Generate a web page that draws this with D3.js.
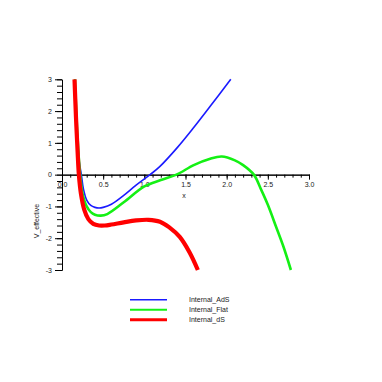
<!DOCTYPE html>
<html>
<head>
<meta charset="utf-8">
<script src="https://cdn.jsdelivr.net/npm/d3@7"></script>
<style>
  body { margin: 0; background: #fff; }
  text { font-family: "Liberation Sans", Arial, sans-serif; fill: #222; }
  .axis path, .axis line { stroke: #000; stroke-width: 1; }
</style>
</head>
<body>
<svg id="chart"></svg>
<script>
// series
const seriesNames = ['Internal_AdS', 'Internal_Flat', 'Internal_dS'];

const xAds = [0.155, 0.17, 0.19, 0.21, 0.235, 0.26, 0.3, 0.35, 0.4, 0.45, 0.5, 0.6, 0.75, 0.9, 1.07, 1.19, 1.4, 1.59, 1.8, 2.05];
const vAds = [3.0, 2.1, 1.1, 0.4, 0.0, -0.45, -0.8, -0.97, -1.03, -1.05, -1.03, -0.93, -0.65, -0.33, 0.0, 0.26, 0.85, 1.45, 2.15, 3.0];

const xFlat = [0.157, 0.17, 0.19, 0.22, 0.25, 0.3, 0.35, 0.4, 0.47, 0.55, 0.75, 1.0, 1.2, 1.39, 1.6, 1.8, 1.94, 2.1, 2.2, 2.33, 2.42, 2.5, 2.6, 2.69, 2.78];
const vFlat = [3.0, 2.2, 1.1, 0.0, -0.6, -1.0, -1.18, -1.26, -1.29, -1.24, -0.87, -0.37, -0.17, 0.0, 0.3, 0.5, 0.57, 0.45, 0.3, 0.0, -0.48, -0.95, -1.64, -2.27, -3.0];

const xDs = [0.152, 0.17, 0.19, 0.205, 0.23, 0.27, 0.32, 0.38, 0.45, 0.52, 0.6, 0.75, 0.9, 1.05, 1.19, 1.3, 1.43, 1.55, 1.65];
const vDs = [3.0, 1.8, 0.7, 0.0, -0.6, -1.1, -1.4, -1.55, -1.6, -1.6, -1.57, -1.5, -1.44, -1.42, -1.48, -1.65, -1.96, -2.45, -3.0];

const xMajorTicks = [0, 0.5, 1.0, 1.5, 2.0, 2.5, 3.0];
const yMajorTicks = [-3, -2, -1, 0, 1, 2, 3];

const colors = ['#1a1aff', '#14f014', '#ff0000'];
const widths = [1.6, 2.6, 4.2];

const width = 382, height = 382;

const svg = d3.select('#chart')
  .attr('width', width)
  .attr('height', height);

// scales
const xScale = d3.scaleLinear().domain([0, 3]).range([62, 309]);
const yScale = d3.scaleLinear().domain([-3, 3]).range([270, 79.3]);

// x axis: minor ticks every 0.1, labelled ticks every 0.5
const xMinor = d3.range(0, 3.001, 0.1).map(d => +d.toFixed(1));
svg.append('g')
  .attr('class', 'axis')
  .attr('transform', `translate(0,${yScale(0)})`)
  .call(d3.axisBottom(xScale).tickValues(xMinor).tickSize(3).tickSizeOuter(0).tickFormat(''));

const xAxisG = svg.append('g')
  .attr('class', 'axis')
  .attr('transform', `translate(0,${yScale(0)})`)
  .call(d3.axisBottom(xScale).tickValues(xMajorTicks).tickSize(5).tickSizeOuter(0).tickPadding(2).tickFormat(d3.format('.1f')));
xAxisG.selectAll('text').style('font-size', '7px').attr('fill', '#222');

// y axis: minor ticks every 0.2, labelled ticks every 1
const yMinor = d3.range(-3, 3.001, 0.2).map(d => +d.toFixed(1));
svg.append('g')
  .attr('class', 'axis')
  .attr('transform', `translate(${xScale(0)},0)`)
  .call(d3.axisLeft(yScale).tickValues(yMinor).tickSize(5).tickSizeOuter(0).tickFormat(''));

const yAxisG = svg.append('g')
  .attr('class', 'axis')
  .attr('transform', `translate(${xScale(0)},0)`)
  .call(d3.axisLeft(yScale).tickValues(yMajorTicks).tickSize(7).tickSizeOuter(0).tickPadding(3).tickFormat(d => String(d)));
yAxisG.selectAll('text').style('font-size', '7px').attr('fill', '#222');

// axis titles
svg.append('text')
  .attr('x', 184)
  .attr('y', 198)
  .attr('text-anchor', 'middle')
  .style('font-size', '7px')
  .text('x');

svg.append('text')
  .attr('transform', 'translate(39,221) rotate(-90)')
  .attr('text-anchor', 'middle')
  .style('font-size', '7px')
  .text('V_effective');

// curves
const series = [
  xAds.map((x, i) => [x, vAds[i]]),
  xFlat.map((x, i) => [x, vFlat[i]]),
  xDs.map((x, i) => [x, vDs[i]])
];

const line = d3.line()
  .x(d => xScale(d[0]))
  .y(d => yScale(d[1]))
  .curve(d3.curveCatmullRom.alpha(0.5));

svg.selectAll('.curve')
  .data(series)
  .join('path')
    .attr('class', 'curve')
    .attr('fill', 'none')
    .attr('stroke', (d, i) => colors[i])
    .attr('stroke-width', (d, i) => widths[i])
    .attr('d', line);

// legend
const legend = svg.append('g');
const legendRows = legend.selectAll('g')
  .data(seriesNames)
  .join('g')
    .attr('transform', (d, i) => `translate(0,${299.7 + i * 10})`);

legendRows.append('line')
  .attr('x1', 130)
  .attr('x2', 167)
  .attr('stroke', (d, i) => colors[i])
  .attr('stroke-width', (d, i) => [1.4, 2, 3][i]);

legendRows.append('text')
  .attr('x', 189)
  .attr('y', 2.5)
  .style('font-size', '7px')
  .text(d => d);
</script>
</body>
</html>
